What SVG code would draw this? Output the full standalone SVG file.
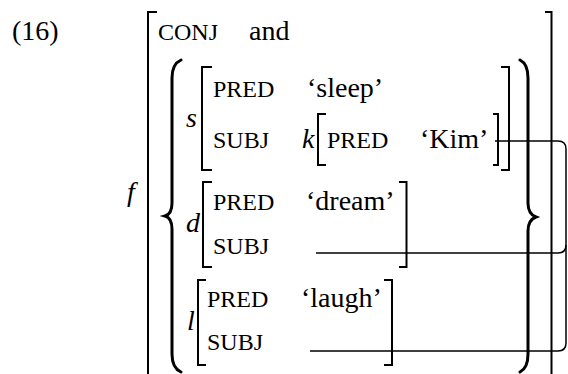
<svg xmlns="http://www.w3.org/2000/svg" width="568" height="374" viewBox="0 0 568 374">
<style>
.t{font-family:"Liberation Serif","Times New Roman",serif;font-size:28px;fill:#000}
.sc{font-family:"Liberation Serif","Times New Roman",serif;font-size:24px;fill:#000}
.it{font-family:"Liberation Serif","Times New Roman",serif;font-size:28px;font-style:italic;fill:#000}
.br{fill:none;stroke:#000;stroke-width:2}
.bc{fill:none;stroke:#000;stroke-width:3;stroke-linecap:round}
.cn{fill:none;stroke:#000;stroke-width:1.5}
</style>
<rect width="568" height="374" fill="#fff"/>
<text class="t" x="12" y="40">(16)</text>
<g id="f">
  <text class="it" x="127" y="201">f</text>
  <path class="br" d="M157,12 H148 V374"/>
  <path class="br" d="M545,12 H551.5 V374"/>
  <text class="sc" x="158" y="40">CONJ</text>
  <text class="t" x="249" y="40">and</text>
</g>
<g id="set">
  <path class="bc" d="M181,60 Q172,64 172,78 L172,203 Q172,214 165,216 Q172,218 172,229 L172,354 Q172,368 181,372"/>
  <path class="bc" d="M520,60 Q528,64 528,78 L528,203 Q528,214 536,217 Q528,220 528,231 L528,354 Q528,368 520,372"/>
</g>
<g id="s">
  <text class="it" x="186" y="127">s</text>
  <path class="br" d="M212,67 H202 V170 H212"/>
  <path class="br" d="M501,67 H509 V170 H501"/>
  <text class="sc" x="213" y="97">PRED</text>
  <text class="t" x="307" y="97">‘sleep’</text>
  <text class="sc" x="213" y="148">SUBJ</text>
</g>
<g id="k">
  <text class="it" x="302" y="148">k</text>
  <path class="br" d="M326,114 H318 V165 H326"/>
  <path class="br" d="M493,114 H498 V165 H493"/>
  <text class="sc" x="327" y="148">PRED</text>
  <text class="t" x="420" y="148">‘Kim’</text>
</g>
<g id="d">
  <text class="it" x="186" y="232">d</text>
  <path class="br" d="M212,182 H203 V267 H212"/>
  <path class="br" d="M399,182 H406.5 V267 H399"/>
  <text class="sc" x="213" y="210">PRED</text>
  <text class="t" x="306" y="210">‘dream’</text>
  <text class="sc" x="213" y="254">SUBJ</text>
</g>
<g id="l">
  <text class="it" x="187" y="330">l</text>
  <path class="br" d="M206,280 H198 V365 H206"/>
  <path class="br" d="M384,280 H392 V365 H384"/>
  <text class="sc" x="207" y="307">PRED</text>
  <text class="t" x="301" y="307">‘laugh’</text>
  <text class="sc" x="207" y="350">SUBJ</text>
</g>
<g id="connectors">
  <path class="cn" d="M495,141 H558 Q566,141 566,149 V343 Q566,351 558,351 H310"/>
  <path class="cn" d="M316,253 H558 Q566,253 566,245"/>
</g>
</svg>
